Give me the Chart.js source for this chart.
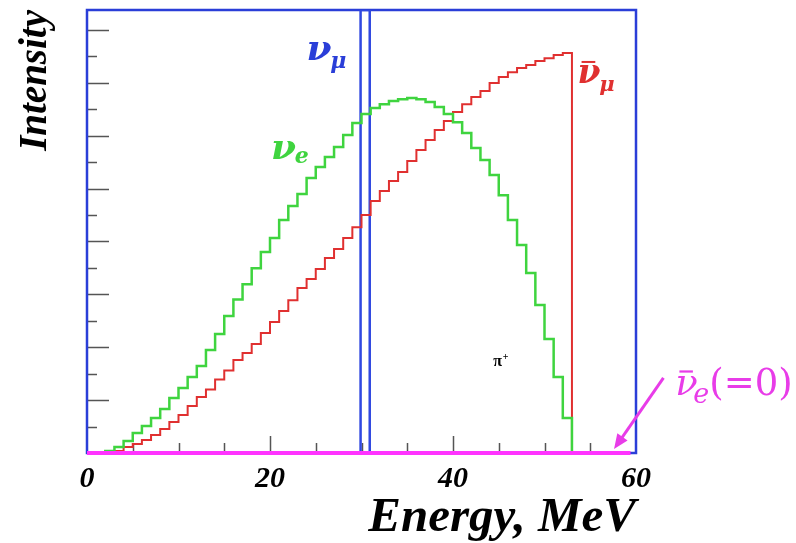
<!DOCTYPE html>
<html>
<head>
<meta charset="utf-8">
<script src="https://cdn.jsdelivr.net/npm/chart.js@4.4.0/dist/chart.umd.min.js"></script>
<style>
html, body { margin: 0; padding: 0; background: #fff; }
#wrap { width: 796px; height: 543px; }
</style>
</head>
<body>
<div id="wrap"><canvas id="spectrum" width="796" height="543"></canvas></div>
<script>
// 1 MeV bins, lower edges in MeV
const binEdges = Array.from({length: 53}, (_, i) => i);
const spectrumEnd = 53;

// nu_e (green) and anti-nu_mu (red) intensity per bin
const nuE = [0, 0, 0.08, 0.23, 0.45, 0.76, 1.02, 1.32, 1.66, 2.08,
  2.46, 2.87, 3.29, 3.89, 4.50, 5.18, 5.80, 6.38, 6.99, 7.60,
  8.13, 8.81, 9.34, 9.79, 10.40, 10.81, 11.19, 11.57, 12.02, 12.48,
  12.82, 13.04, 13.19, 13.31, 13.38, 13.42, 13.38, 13.27, 13.08, 12.82,
  12.51, 12.10, 11.53, 11.08, 10.51, 9.75, 8.81, 7.86, 6.81, 5.60,
  4.31, 2.87, 1.32];
const nuMuBar = [0, 0, 0.02, 0.08, 0.23, 0.34, 0.49, 0.68, 0.91, 1.17,
  1.44, 1.78, 2.12, 2.40, 2.78, 3.12, 3.52, 3.78, 4.12, 4.54,
  4.95, 5.37, 5.78, 6.24, 6.58, 6.96, 7.37, 7.71, 8.13, 8.54,
  9.00, 9.53, 9.91, 10.28, 10.62, 11.04, 11.46, 11.83, 12.21, 12.55,
  12.89, 13.19, 13.46, 13.69, 13.99, 14.22, 14.40, 14.56, 14.67, 14.82,
  14.93, 15.05, 15.12];
// monoenergetic nu_mu line (drawn as a narrow box), MeV
const nuMuLine = [29.9, 30.9];
// anti-nu_e is zero everywhere
const nuEBarRange = [0, 59.4];

const xTickLabels = [0, 20, 40, 60];
const yMax = 16.75;

function stepData(values) {
  const pts = binEdges.map((e, i) => ({x: e, y: values[i]}));
  pts.push({x: spectrumEnd, y: 0});
  return pts;
}

const serif = '"Liberation Serif", "DejaVu Serif", serif';
const dejavu = '"DejaVu Serif", serif';

// nu with subscript, optional bar (drawn as a macron glyph over the nu)
function symbol(ctx, x, y, sub, opt) {
  ctx.save();
  ctx.fillStyle = opt.color;
  ctx.textAlign = 'left';
  ctx.textBaseline = 'alphabetic';
  ctx.font = opt.style + ' ' + opt.size + 'px ' + dejavu;
  ctx.fillText('ν', x, y);
  const w = ctx.measureText('ν').width;
  if (opt.bar) {
    ctx.fillRect(x + w * 0.18, y - opt.size * 0.66, w * 0.6, Math.max(2, opt.size * 0.06));
  }
  ctx.font = opt.style + ' ' + opt.subSize + 'px ' + dejavu;
  ctx.fillText(sub, x + w * opt.subShift, y + opt.drop);
  const w2 = ctx.measureText(sub).width;
  ctx.restore();
  return x + w * opt.subShift + w2;
}

const decor = {
  id: 'decor',
  beforeDatasetsDraw(chart) {
    const {ctx, chartArea: a, scales: {x, y}} = chart;
    ctx.save();
    ctx.strokeStyle = '#555';
    ctx.lineWidth = 1.5;
    ctx.beginPath();
    y.ticks.forEach(t => {
      if (t.value <= 0 || t.value % 1 !== 0) return;
      const py = Math.round(y.getPixelForValue(t.value)) + 0.5;
      const len = t.value % 2 === 0 ? 22 : 10;
      ctx.moveTo(a.left, py);
      ctx.lineTo(a.left + len, py);
    });
    x.ticks.forEach(t => {
      if (t.value <= 0 || t.value >= 60) return;
      const px = Math.round(x.getPixelForValue(t.value)) + 0.5;
      const len = t.value % 20 === 0 ? 17 : 10;
      ctx.moveTo(px, a.bottom);
      ctx.lineTo(px, a.bottom - len);
    });
    ctx.stroke();
    ctx.strokeStyle = '#2a3ed8';
    ctx.lineWidth = 2.5;
    ctx.strokeRect(a.left, a.top, a.right - a.left, a.bottom - a.top);
    ctx.restore();
  },
  afterDatasetsDraw(chart) {
    const {ctx, scales: {x, y}} = chart;
    const bold = {style: 'italic bold', size: 36, subSize: 22, subShift: 0.95};
    symbol(ctx, x.getPixelForValue(24.0), y.getPixelForValue(14.85), 'μ',
      Object.assign({}, bold, {color: '#2a3ed8', drop: 8}));
    symbol(ctx, x.getPixelForValue(20.1), y.getPixelForValue(11.1), 'e',
      Object.assign({}, bold, {color: '#3fd43f', drop: 4}));
    symbol(ctx, x.getPixelForValue(53.6), y.getPixelForValue(14.0), 'μ',
      Object.assign({}, bold, {color: '#e03030', drop: 8, size: 33, subSize: 21, bar: true}));

    ctx.save();
    ctx.fillStyle = '#000';
    ctx.font = 'bold 16px ' + serif;
    const px = x.getPixelForValue(44.4), py = y.getPixelForValue(3.3);
    ctx.fillText('π', px, py);
    ctx.font = 'bold 10px ' + serif;
    ctx.fillText('+', px + ctx.measureText('π').width + 4, py - 6);
    ctx.restore();

    // label and arrow for anti-nu_e
    ctx.save();
    const magenta = '#e83ce8';
    const lx = x.getPixelForValue(64.3), ly = y.getPixelForValue(2.2);
    const end = symbol(ctx, lx, ly, 'e',
      {style: 'italic', size: 37, subSize: 27, subShift: 0.8, drop: 8, color: magenta, bar: true});
    ctx.fillStyle = magenta;
    ctx.font = '37px ' + dejavu;
    ctx.fillText('(=0)', end, ly);

    ctx.strokeStyle = magenta;
    const tx = x.getPixelForValue(57.6), ty = y.getPixelForValue(0.15);
    const sx = x.getPixelForValue(63.0), sy = y.getPixelForValue(2.84);
    const ang = Math.atan2(ty - sy, tx - sx);
    ctx.lineWidth = 3;
    ctx.beginPath();
    ctx.moveTo(sx, sy);
    ctx.lineTo(tx - 10 * Math.cos(ang), ty - 10 * Math.sin(ang));
    ctx.stroke();
    ctx.beginPath();
    ctx.moveTo(tx, ty);
    ctx.lineTo(tx - 16 * Math.cos(ang - 0.4), ty - 16 * Math.sin(ang - 0.4));
    ctx.lineTo(tx - 16 * Math.cos(ang + 0.4), ty - 16 * Math.sin(ang + 0.4));
    ctx.closePath();
    ctx.fill();
    ctx.restore();
  }
};

new Chart('spectrum', {
  type: 'line',
  data: {
    datasets: [
      {
        label: 'anti-nu_e',
        data: nuEBarRange.map(v => ({x: v, y: 0})),
        borderColor: '#ff33ff',
        borderWidth: 4,
        clip: false,
        order: 0
      },
      {
        label: 'nu_e',
        data: stepData(nuE),
        stepped: 'before',
        borderColor: '#3fd43f',
        borderWidth: 2.5,
        order: 1
      },
      {
        label: 'anti-nu_mu',
        data: stepData(nuMuBar),
        stepped: 'before',
        borderColor: '#e03030',
        borderWidth: 2,
        order: 2
      },
      {
        label: 'nu_mu',
        data: [
          {x: nuMuLine[0], y: 0}, {x: nuMuLine[0], y: yMax},
          {x: nuMuLine[1], y: yMax}, {x: nuMuLine[1], y: 0}
        ],
        borderColor: '#3048e0',
        borderWidth: 2.5,
        order: 3
      }
    ]
  },
  options: {
    responsive: false,
    animation: false,
    devicePixelRatio: 1,
    layout: {padding: {left: 0, right: 160, top: 10, bottom: 0}},
    elements: {point: {radius: 0}, line: {tension: 0}},
    plugins: {legend: {display: false}, tooltip: {enabled: false}},
    scales: {
      x: {
        type: 'linear',
        min: 0,
        max: 60,
        afterFit: s => { s.height = 90; },
        grid: {display: false, drawTicks: false},
        border: {display: false},
        ticks: {
          stepSize: 5,
          autoSkip: false,
          maxRotation: 0,
          padding: 8,
          color: '#000',
          font: {family: serif, size: 30, style: 'italic', weight: 'bold'},
          callback: v => xTickLabels.includes(v) ? String(v) : ''
        },
        title: {
          display: true,
          text: 'Energy, MeV',
          align: 'end',
          color: '#000',
          font: {family: serif, size: 49, style: 'italic', weight: 'bold', lineHeight: 1},
          padding: {top: 0, bottom: 0}
        }
      },
      y: {
        min: 0,
        max: yMax,
        afterFit: s => { s.width = 87; },
        grid: {display: false, drawTicks: false},
        border: {display: false},
        ticks: {display: false, stepSize: 1},
        title: {
          display: true,
          text: 'Intensity',
          align: 'end',
          color: '#000',
          font: {family: serif, size: 39, style: 'italic', weight: 'bold', lineHeight: 1},
          padding: {top: 16, bottom: 0}
        }
      }
    }
  },
  plugins: [decor]
});
</script>
</body>
</html>
